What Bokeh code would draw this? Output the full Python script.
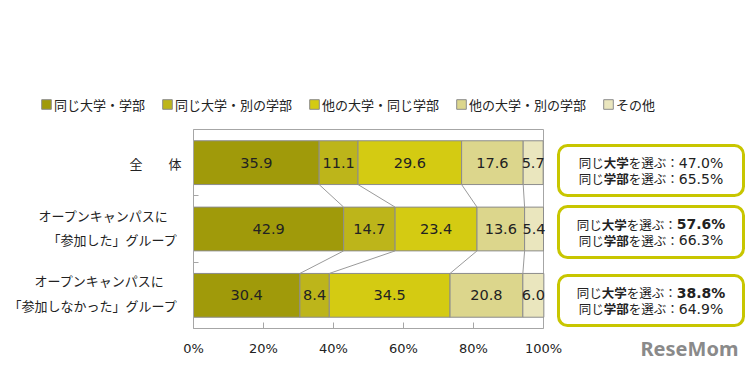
from bokeh.plotting import figure
from bokeh.models import (Range1d, FixedTicker, Label, Legend,
                          LegendItem, BoxAnnotation, ColumnDataSource)
from bokeh.core.properties import value
from bokeh.embed import file_html
from bokeh.resources import INLINE

# ---------------- data ----------------
groups = ["全　　体",
          "オープンキャンパスに\n「参加した」グループ",
          "オープンキャンパスに\n「参加しなかった」グループ"]
series = ["同じ大学・学部", "同じ大学・別の学部", "他の大学・同じ学部",
          "他の大学・別の学部", "その他"]
same_univ_same_dept = [35.9, 42.9, 30.4]
same_univ_other_dept = [11.1, 14.7, 8.4]
other_univ_same_dept = [29.6, 23.4, 34.5]
other_univ_other_dept = [17.6, 13.6, 20.8]
others = [5.7, 5.4, 6.0]
same_univ_pct = ["47.0%", "57.6%", "38.8%"]
same_dept_pct = ["65.5%", "66.3%", "64.9%"]
highlight_univ = [False, True, True]
x_ticks = [0, 20, 40, 60, 80, 100]
x_tick_labels = ["0%", "20%", "40%", "60%", "80%", "100%"]

values = [same_univ_same_dept, same_univ_other_dept, other_univ_same_dept,
          other_univ_other_dept, others]
colors = ["#A09A0A", "#BDB51A", "#D4CB12", "#DCD68C", "#EAE6BE"]

# ---------------- layout helpers (canvas px -> data) ----------------
W, H = 749, 370
FRAME_L, FRAME_R100, FRAME_T, FRAME_B = 193, 543, 129, 328
PX_PER_UNIT = (FRAME_R100 - FRAME_L) / 100.0
N = len(groups)
PX_PER_ROW = (FRAME_B - FRAME_T) / N


def px2x(px):
    return (px - FRAME_L) / PX_PER_UNIT


def px2y(py):
    return (py - FRAME_T) / PX_PER_ROW


CJK = "Noto Sans CJK JP"
LAT = "DejaVu Sans"

# the whole canvas is the frame; the axes sit at fixed data locations
p = figure(width=W, height=H, title=None,
           x_range=Range1d(px2x(0), px2x(W)),
           y_range=Range1d(px2y(H), px2y(0)),
           output_backend="svg", toolbar_location=None,
           min_border_left=0, min_border_right=0,
           min_border_top=0, min_border_bottom=0,
           outline_line_color=None, background_fill_color="white",
           border_fill_color="white")
p.xgrid.visible = False
p.ygrid.visible = False

AX = "#A6A6A6"
# bottom axis
xa = p.xaxis[0]
xa.fixed_location = N
xa.ticker = FixedTicker(ticks=x_ticks)
xa.bounds = (0, 100)
xa.major_label_overrides = {t: l for t, l in zip(x_ticks, x_tick_labels)}
xa.major_tick_in = 6
xa.major_tick_out = 0
xa.minor_tick_line_color = None
xa.axis_line_color = AX
xa.major_tick_line_color = AX
xa.major_label_text_font = LAT
xa.major_label_text_font_size = "13px"
xa.major_label_text_color = "#222222"
xa.major_label_standoff = 12

# left axis with category separators
ya = p.yaxis[0]
ya.fixed_location = 0
ya.ticker = FixedTicker(ticks=list(range(N + 1)))
ya.bounds = (0, N)
ya.major_label_overrides = {i: "" for i in range(N + 1)}
ya.major_tick_in = 5
ya.major_tick_out = 0
ya.minor_tick_line_color = None
ya.axis_line_color = AX
ya.major_tick_line_color = AX

# top and right border of the plot area
p.segment(x0=[0, 100], y0=[0, 0], x1=[100, 100], y1=[0, N],
          line_color=AX, line_width=1)

# ---------------- bars ----------------
rows = [i + 0.5 for i in range(N)]
BAR_H = 0.66
cum = [[0.0] * N]
for vals in values:
    cum.append([c + v for c, v in zip(cum[-1], vals)])

items = []
for k, (name, vals, col) in enumerate(zip(series, values, colors)):
    src = ColumnDataSource(dict(y=rows, left=cum[k], right=cum[k + 1],
                                mid=[(a + b) / 2 for a, b in zip(cum[k], cum[k + 1])],
                                lab=[f"{v:.1f}" for v in vals]))
    r = p.hbar(y="y", left="left", right="right", height=BAR_H, source=src,
               fill_color=col, line_color="#8C8C8C", line_width=1)
    p.text(x="mid", y="y", text="lab", source=src, text_font=value(LAT),
           text_font_size="14.5px", text_color="#222222", text_align="center",
           text_baseline="middle")
    items.append(LegendItem(label=name, renderers=[r]))

# connector lines between rows
x0s, y0s, x1s, y1s = [], [], [], []
for r_i in range(N - 1):
    for k in range(1, len(values)):
        x0s.append(cum[k][r_i]); y0s.append(rows[r_i] + BAR_H / 2)
        x1s.append(cum[k][r_i + 1]); y1s.append(rows[r_i + 1] - BAR_H / 2)
p.segment(x0=x0s, y0=y0s, x1=x1s, y1=y1s, line_color="#9A9A9A", line_width=1)

# ---------------- legend ----------------
legend = Legend(items=items, orientation="horizontal", location=(40, 256),
                glyph_width=12, glyph_height=12, label_height=20,
                label_standoff=2, spacing=16, padding=0, margin=0,
                border_line_color=None, background_fill_alpha=0,
                label_text_font=CJK, label_text_font_size="13px",
                label_text_color="#222222")
p.add_layout(legend)

# ---------------- row labels ----------------
label_right = [[181], [168, 177], [164, 177]]
label_dy = [[0.5], [-14, 10], [-14.5, 10.5]]
for i, g in enumerate(groups):
    for j, line in enumerate(g.split("\n")):
        py = FRAME_T + rows[i] * PX_PER_ROW + label_dy[i][j]
        p.add_layout(Label(x=px2x(label_right[i][j]), y=px2y(py), text=line,
                           text_font=CJK, text_font_size="13px",
                           text_color="#222222", text_align="right",
                           text_baseline="middle"))

# ---------------- summary boxes ----------------
box_top = [145, 206, 275]
box_bot = [195, 257, 325]
BOX_L, BOX_R = 558, 743
CJK_SIZE = 12.5
LAT_SIZE = 14
w_norm = {"d": 0.636, ".": 0.318, "%": 0.950}
w_bold = {"d": 0.696, ".": 0.380, "%": 1.002}


def lat_w(s, bold):
    t = w_bold if bold else w_norm
    return sum(t.get(c, t["d"]) for c in s) * LAT_SIZE


for i in range(N):
    p.add_layout(BoxAnnotation(left=px2x(BOX_L), right=px2x(BOX_R),
                               top=px2y(box_top[i]), bottom=px2y(box_bot[i]),
                               fill_color="white", fill_alpha=1.0,
                               line_color="#C8C600", line_alpha=1.0, line_width=3,
                               border_radius=9, level="underlay"))
    cy = (box_top[i] + box_bot[i]) / 2
    lines = [
        [("同じ", False, "cjk"), ("大学", True, "cjk"), ("を選ぶ：", False, "cjk"),
         (same_univ_pct[i], highlight_univ[i], "lat")],
        [("同じ", False, "cjk"), ("学部", True, "cjk"), ("を選ぶ：", False, "cjk"),
         (same_dept_pct[i], False, "lat")],
    ]
    for li, segs in enumerate(lines):
        widths = [len(s) * CJK_SIZE if kind == "cjk" else lat_w(s, b)
                  for s, b, kind in segs]
        xs = (BOX_L + BOX_R) / 2 - sum(widths) / 2
        py = cy + (-8 if li == 0 else 8)
        for (s, b, kind), w in zip(segs, widths):
            p.text(x=[px2x(xs)], y=[px2y(py)], text=[s],
                   text_font=value(CJK if kind == "cjk" else LAT),
                   text_font_style="bold" if b else "normal",
                   text_font_size=f"{CJK_SIZE if kind == 'cjk' else LAT_SIZE}px",
                   text_color="#222222", text_align="left", text_baseline="middle")
            xs += w

# watermark
p.add_layout(Label(x=px2x(640), y=px2y(348), text="ReseMom", text_font="Noto Sans",
                   text_font_style="bold", text_font_size="20px",
                   text_color="#8A8A8A", text_baseline="middle"))

open("out.html", "w").write(file_html(p, INLINE))
